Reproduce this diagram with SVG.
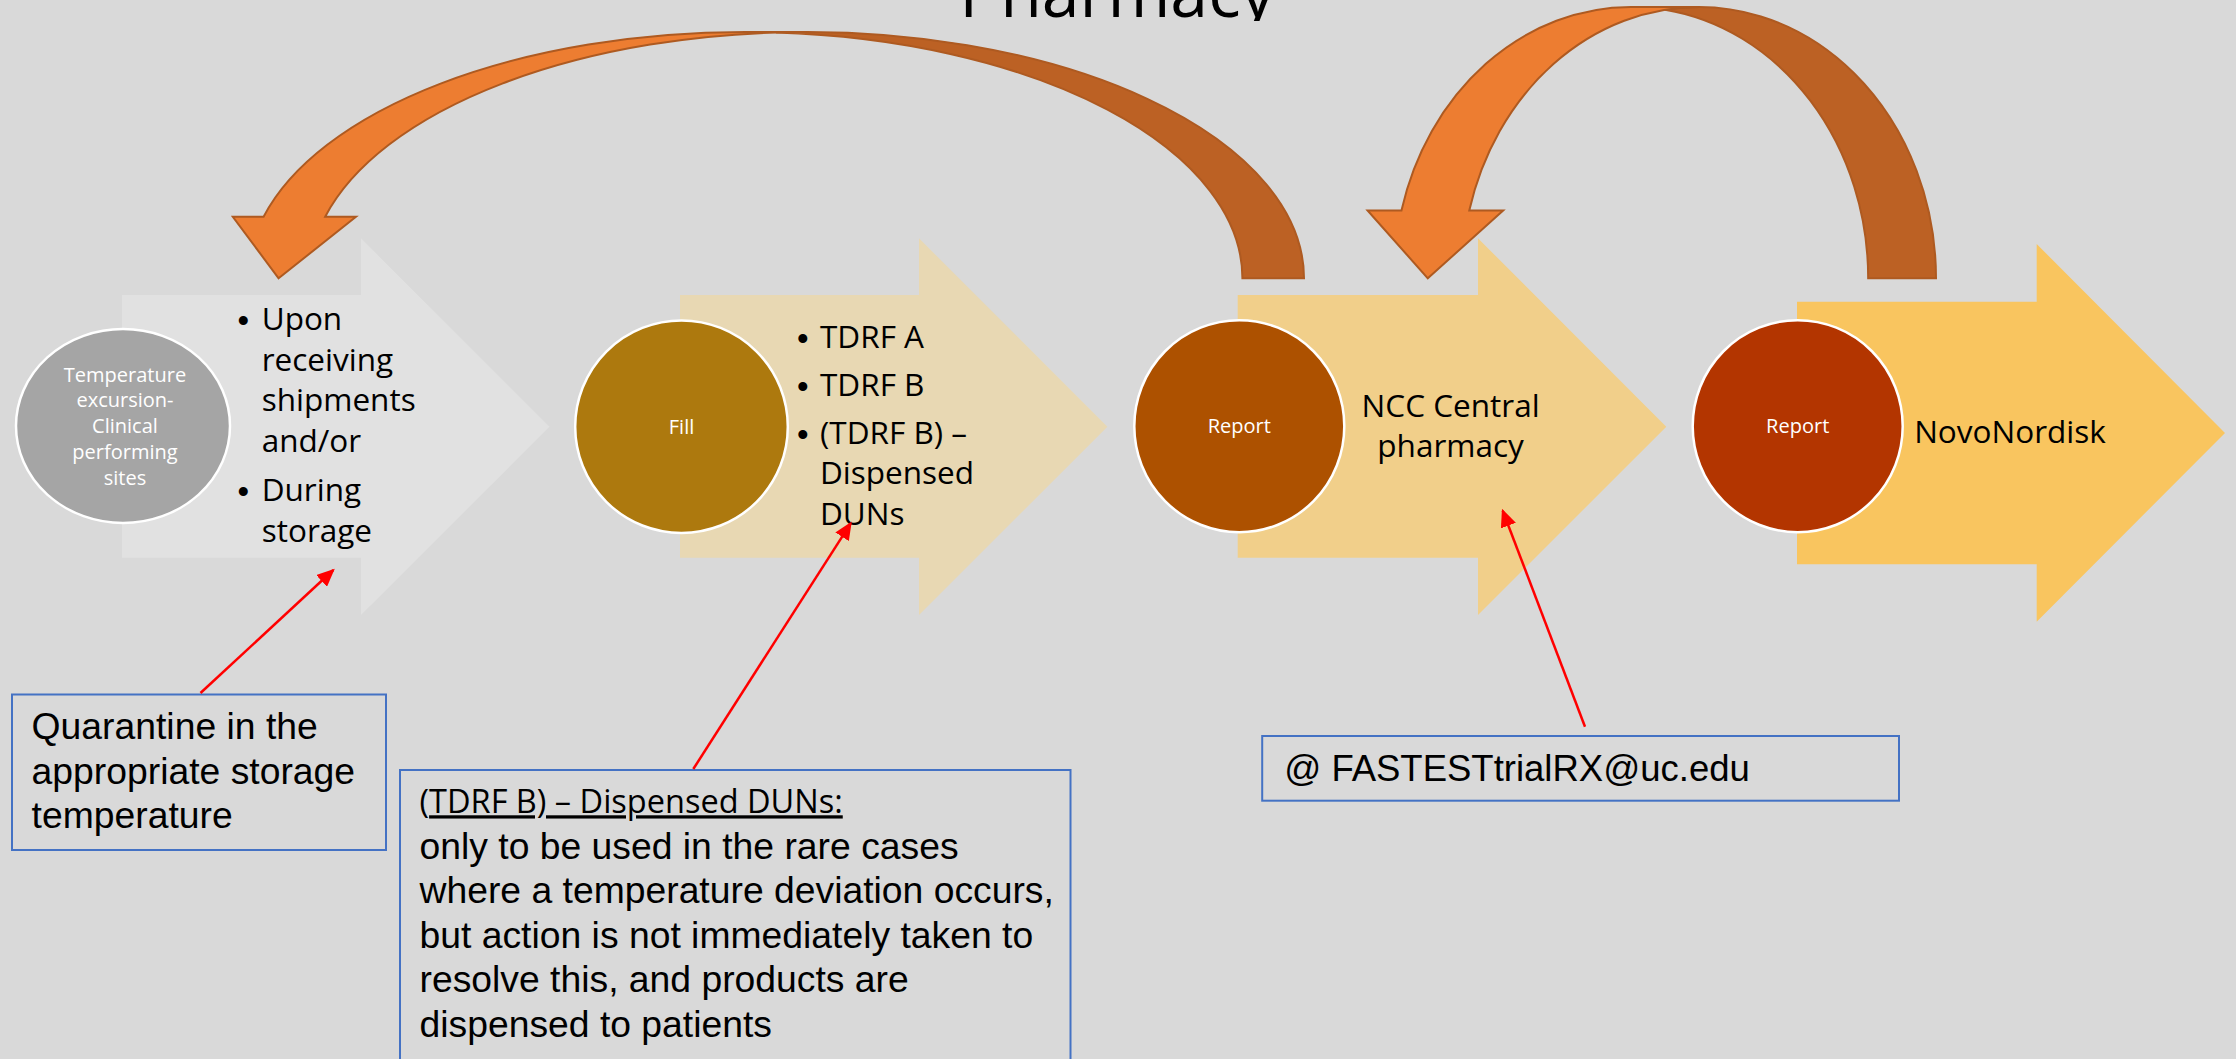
<svg xmlns="http://www.w3.org/2000/svg" width="2236" height="1059" viewBox="0 0 2236 1059">
<defs>
<style>
.os{font-family:"Open Sans","DejaVu Sans",sans-serif;fill:#000;}
.ar{font-family:"Liberation Sans",Arial,sans-serif;font-size:37.3px;fill:#000;}
.ctext{font-family:"Open Sans","DejaVu Sans",sans-serif;font-size:20px;fill:#fff;text-anchor:middle;}
.btext{font-family:"Open Sans","DejaVu Sans",sans-serif;font-size:31.5px;fill:#000;}
.bul{font-family:"Liberation Sans",Arial,sans-serif;font-size:33px;fill:#000;}
.circ{stroke:#fff;stroke-width:2.5;}
.box{fill:none;stroke:#4472C4;stroke-width:2;}
.red{stroke:#FF0000;stroke-width:2.5;fill:none;marker-end:url(#rh);}
.front{fill:#ED7D31;stroke:#AE5A21;stroke-width:2;}
.back{fill:#BC6124;stroke:#AE5A21;stroke-width:2;}
</style>
<marker id="rh" markerUnits="userSpaceOnUse" markerWidth="18" markerHeight="16" viewBox="0 0 18 16" refX="16" refY="8" orient="auto"><path d="M0,0 L18,8 L0,16 Z" fill="#FF0000"/></marker>
<clipPath id="tclip"><rect x="0" y="0" width="2236" height="21"/></clipPath>
</defs>
<rect x="0" y="0" width="2236" height="1059" fill="#D9D9D9"/>
<g id="title">
<text x="1117" y="17" class="os" font-size="68" text-anchor="middle" clip-path="url(#tclip)">Pharmacy</text>
</g>
<g id="node-sites">
<polygon points="122,295 361,295 361,238.3 549.5,426.7 361,615 361,557.7 122,557.7" fill="#E1E1E1"/>
<ellipse cx="123" cy="426" rx="107" ry="97" fill="#A5A5A5" class="circ"/>
<text class="ctext"><tspan x="125" y="381.5">Temperature</tspan><tspan x="125" y="407.4">excursion-</tspan><tspan x="125" y="433.3">Clinical</tspan><tspan x="125" y="459.2">performing</tspan><tspan x="125" y="485.1">sites</tspan></text>
<text class="bul"><tspan x="237.5" y="332">•</tspan><tspan x="237.5" y="503">•</tspan></text>
<text class="btext"><tspan x="261.7" y="330">Upon</tspan><tspan x="261.7" y="370.5">receiving</tspan><tspan x="261.7" y="411">shipments</tspan><tspan x="261.7" y="451.5">and/or</tspan><tspan x="261.7" y="501">During</tspan><tspan x="261.7" y="541.5">storage</tspan></text>
</g>
<g id="node-fill">
<polygon points="680,295 919,295 919,238.3 1107.4,426.7 919,615 919,557.7 680,557.7" fill="#E8D8B3"/>
<circle cx="681.5" cy="426.7" r="106.3" fill="#AD790E" class="circ"/>
<text class="ctext" x="681.5" y="433.5">Fill</text>
<text class="bul"><tspan x="797" y="350.3">•</tspan><tspan x="797" y="397.7">•</tspan><tspan x="797" y="446">•</tspan></text>
<text class="btext"><tspan x="820" y="348.3">TDRF A</tspan><tspan x="820" y="395.7">TDRF B</tspan><tspan x="820" y="444">(TDRF B) –</tspan><tspan x="820" y="484.4">Dispensed</tspan><tspan x="820" y="525">DUNs</tspan></text>
</g>
<g id="node-ncc">
<polygon points="1237.7,295 1478,295 1478,238.3 1666.3,426.7 1478,615 1478,557.7 1237.7,557.7" fill="#F1CF8A"/>
<ellipse cx="1239.3" cy="426.2" rx="105" ry="106" fill="#AD5100" class="circ"/>
<text class="ctext" x="1239.3" y="433">Report</text>
<text class="btext" text-anchor="middle"><tspan x="1450.6" y="416.7">NCC Central</tspan><tspan x="1450.6" y="456.7">pharmacy</tspan></text>
</g>
<g id="node-novo">
<polygon points="1797,301.7 2036.7,301.7 2036.7,244 2225,433 2036.7,621.7 2036.7,564.3 1797,564.3" fill="#F9C55F"/>
<ellipse cx="1797.7" cy="426.2" rx="105" ry="106" fill="#B33500" class="circ"/>
<text class="ctext" x="1797.7" y="433">Report</text>
<text class="btext" text-anchor="middle" x="2010" y="442.7">NovoNordisk</text>
</g>
<g id="note-quarantine">
<rect x="12" y="694.5" width="374" height="155.5" class="box"/>
<text class="ar"><tspan x="31.6" y="739.3">Quarantine in the</tspan><tspan x="31.6" y="783.8">appropriate storage</tspan><tspan x="31.6" y="828.3">temperature</tspan></text>
</g>
<g id="note-tdrf">
<rect x="400" y="770" width="670.5" height="300" class="box"/>
<text class="os" font-size="32.5" x="419.5" y="813.3">(<tspan text-decoration="underline">TDRF B) – Dispensed DUNs:</tspan></text>
<text class="ar"><tspan x="419.5" y="858.5">only to be used in the rare cases</tspan><tspan x="419.5" y="903.1">where a temperature deviation occurs,</tspan><tspan x="419.5" y="947.7">but action is not immediately taken to</tspan><tspan x="419.5" y="992.3">resolve this, and products are</tspan><tspan x="419.5" y="1036.9">dispensed to patients</tspan></text>
</g>
<g id="note-email">
<rect x="1262.2" y="736" width="636.8" height="64.7" class="box"/>
<text class="ar" font-size="36.5" x="1284.2" y="781" style="font-size:36.5px">@ FASTESTtrialRX@uc.edu</text>
</g>
<g id="connectors">
<g id="curved-report-ncc" transform="translate(1304,32) scale(-1,1)">
<path class="back" d="M528.11,0.47 A497.32,246.3 0 0 0 61.58,246.3 L0,246.3 A497.32,246.3 0 0 1 528.11,0.47 Z"/>
<path class="front" d="M1025.4,246.3 L948.03,184.73 L978.82,184.73 A497.32,246.3 0 0 0 497.32,0 L558.9,0 A497.32,246.3 0 0 1 1040.4,184.73 L1071.19,184.73 Z"/>
</g>
<g id="curved-report-novo" transform="translate(1936,7) scale(-1,1)">
<path class="back" d="M271.04,2.79 A237.13,271.3 0 0 0 67.82,271.3 L0,271.3 A237.13,271.3 0 0 1 271.04,2.79 Z"/>
<path class="front" d="M508.18,271.3 L432.82,203.48 L466.73,203.48 A237.13,271.3 0 0 0 237.13,0 L304.95,0 A237.13,271.3 0 0 1 534.55,203.48 L568.46,203.48 Z"/>
</g>
<line class="red" x1="200.5" y1="693" x2="333.3" y2="570"/>
<line class="red" x1="693.3" y1="769" x2="850.7" y2="523.3"/>
<line class="red" x1="1585" y1="726.7" x2="1502.7" y2="510.7"/>
</g>
</svg>
